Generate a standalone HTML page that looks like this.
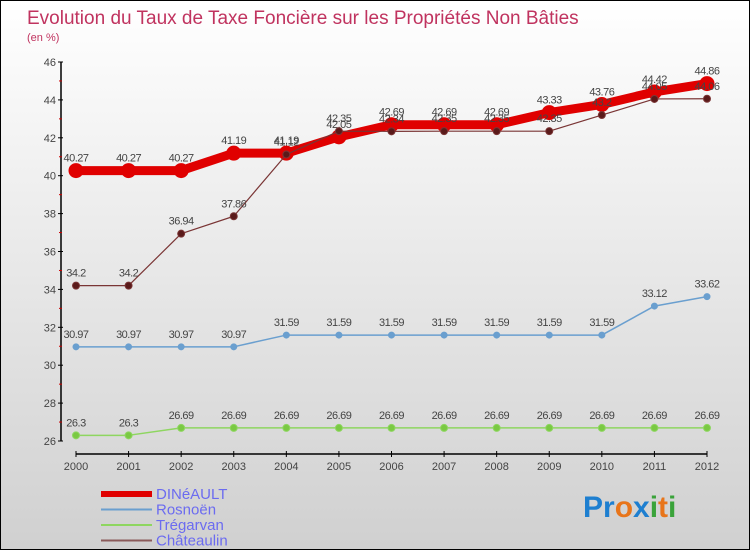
<!DOCTYPE html>
<html><head><meta charset="utf-8"><style>
body{margin:0}
#c{width:750px;height:550px;position:relative;overflow:hidden;font-family:"Liberation Sans",sans-serif;background:linear-gradient(#ffffff,#d0d0d0);box-sizing:border-box;border:1px solid #000}
</style></head><body>
<div id="c">
<svg id="s" width="750" height="550" style="position:absolute;left:0;top:0">
<text x="26" y="23" font-size="19" fill="#c0335f">Evolution du Taux de Taxe Foncière sur les Propriétés Non Bâties</text>
<text x="26" y="40" font-size="11" fill="#c0335f">(en %)</text>
<g id="axes"></g><g id="series"></g><g id="legend"></g>
<text x="582" y="516" font-size="30" font-weight="bold"><tspan fill="#1e7fd0">Pr</tspan><tspan fill="#e8751a">o</tspan><tspan fill="#1e7fd0">x</tspan><tspan fill="#3aa33a">i</tspan><tspan fill="#e8751a">t</tspan><tspan fill="#3aa33a">i</tspan></text>
</svg>
</div>
<script>
const years=["2000","2001","2002","2003","2004","2005","2006","2007","2008","2009","2010","2011","2012"];
const yTicks=[26,28,30,32,34,36,38,40,42,44,46];
const dineault=[40.27,40.27,40.27,41.19,41.19,42.05,42.69,42.69,42.69,43.33,43.76,44.42,44.86];
const rosnoen=[30.97,30.97,30.97,30.97,31.59,31.59,31.59,31.59,31.59,31.59,31.59,33.12,33.62];
const tregarvan=[26.3,26.3,26.69,26.69,26.69,26.69,26.69,26.69,26.69,26.69,26.69,26.69,26.69];
const chateaulin=[34.2,34.2,36.94,37.86,41.12,42.35,42.34,42.35,42.35,42.35,43.2,44.05,44.06];
const NS="http://www.w3.org/2000/svg";
const x=i=>75+i*(706-75)/12;
const y=v=>440-(v-26)*(440-61)/20;
function mk(tag,attrs,parent){const e=document.createElementNS(NS,tag);for(const k in attrs)e.setAttribute(k,attrs[k]);parent.appendChild(e);return e;}
const ax=document.getElementById('axes');
let e=mk('line',{x1:60,y1:y(46),x2:60,y2:y(26),stroke:'#000','stroke-width':1.5},ax);


e=mk('line',{x1:75,y1:453,x2:706,y2:453,stroke:'#000','stroke-width':1.5},ax);


yTicks.forEach(t=>{
  mk('line',{x1:57,y1:y(t),x2:62,y2:y(t),stroke:'#000'},ax);
  if(t<46) mk('line',{x1:58,y1:y(t+1),x2:61,y2:y(t+1),stroke:'#c00'},ax);
  const tx=mk('text',{x:55,y:y(t)+4,'text-anchor':'end','font-size':11,fill:'#444'},ax);
  tx.textContent=t;
  
  
});
years.forEach((yr,i)=>{
  mk('line',{x1:x(i),y1:450,x2:x(i),y2:456,stroke:'#000'},ax);
  const tx=mk('text',{x:x(i),y:469,'text-anchor':'middle','font-size':11,fill:'#444'},ax);
  tx.textContent=yr;
  
  
});
const sg=document.getElementById('series');
function draw(data,name,color,w,r,fill){
  const g=mk('g',{},sg);
  
  
  const p=mk('polyline',{points:data.map((v,i)=>x(i)+','+y(v)).join(' '),fill:'none',stroke:color,'stroke-width':w,'stroke-linejoin':'round'},g);
  
  
  data.forEach((v,i)=>{
    const c=mk('circle',{cx:x(i),cy:y(v),r:r,fill:fill,stroke:color,'stroke-width':1},g);
    
    
    const t=mk('text',{x:x(i),y:y(v)-9,'text-anchor':'middle','font-size':11,fill:'#444','letter-spacing':'-0.5'},g);
    t.textContent=v;
    
    
  });
}
draw(dineault,'dineault','#e00000',9,7,'#e00000');
draw(rosnoen,'rosnoen','#6a9fcf',1.5,3,'#6a9fcf');
draw(tregarvan,'tregarvan','#8ed660',1.5,3.5,'#7ac943');
draw(chateaulin,'chateaulin','#7a3535',1.2,3.5,'#5a1a1a');
const lg=document.getElementById('legend');
[["DINéAULT","#e00000",6],["Rosnoën","#6a9fcf",2],["Trégarvan","#8ed660",2],["Châteaulin","#8a5a5a",2]].forEach((d,i)=>{
  const yy=493+i*15.5;
  const l=mk('line',{x1:100,y1:yy,x2:151,y2:yy,stroke:d[1],'stroke-width':d[2]},lg);
  
  
  const t=mk('text',{x:155,y:yy+5,'font-size':15,fill:'#6b6bf0'},lg);
  t.textContent=d[0];
  
  
});
</script>
</body></html>
